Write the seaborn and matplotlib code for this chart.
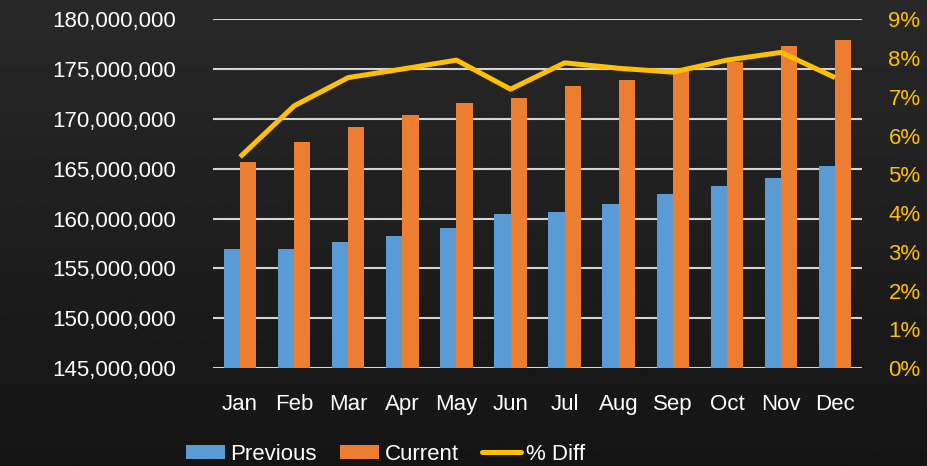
import numpy as np
import pandas as pd
import matplotlib
matplotlib.use("Agg")
import matplotlib.pyplot as plt
from matplotlib.ticker import FuncFormatter, MultipleLocator
from matplotlib.patches import Patch
from matplotlib.lines import Line2D
import seaborn as sns

# Monthly totals and year-over-year change
months = ["Jan", "Feb", "Mar", "Apr", "May", "Jun",
          "Jul", "Aug", "Sep", "Oct", "Nov", "Dec"]
previous = [157.0e6, 157.0e6, 157.65e6, 158.25e6, 159.05e6, 160.45e6,
            160.65e6, 161.45e6, 162.45e6, 163.25e6, 164.1e6, 165.3e6]
current = [165.7e6, 167.65e6, 169.25e6, 170.45e6, 171.65e6, 172.1e6,
           173.3e6, 173.9e6, 174.8e6, 175.75e6, 177.3e6, 177.9e6]
pct_diff = [5.45, 6.77, 7.50, 7.72, 7.95, 7.20,
            7.88, 7.74, 7.64, 7.95, 8.15, 7.50]

BLUE = "#5B9BD5"
ORANGE = "#ED7D31"
GOLD = "#FFC000"
GRID = "#d4d4d4"

sns.set_theme(style="dark")
plt.rcParams["font.family"] = ["Liberation Sans", "DejaVu Sans"]

bars = pd.DataFrame({
    "month": months * 2,
    "value": previous + current,
    "series": ["Previous"] * 12 + ["Current"] * 12,
})
line = pd.DataFrame({"pos": np.arange(len(months)), "pct": pct_diff})

fig = plt.figure(figsize=(9.27, 4.66), dpi=100)

# dark chalkboard-style backdrop, slightly lighter near the top
bg = fig.add_axes([0, 0, 1, 1], zorder=-10)
grad = np.linspace(0.16, 0.08, 256).reshape(-1, 1)
bg.imshow(grad, cmap="gray", vmin=0, vmax=1, aspect="auto",
          extent=[0, 1, 0, 1])
bg.set_axis_off()

ax = fig.add_axes([0.2298, 0.2103, 0.7002, 0.7479])
ax.set_facecolor("none")

sns.barplot(data=bars, x="month", y="value", hue="series",
            palette={"Previous": BLUE, "Current": ORANGE},
            width=0.6, gap=0, saturation=1, ax=ax, legend=False,
            zorder=3, edgecolor="none", errorbar=None)

ax.set_ylim(145e6, 180e6)
ax.set_xlim(-0.5, 11.5)
ax.yaxis.set_major_locator(MultipleLocator(5e6))
ax.yaxis.set_major_formatter(FuncFormatter(lambda v, p: f"{v:,.0f}"))
ax.grid(axis="y", color=GRID, linewidth=1.5, zorder=0)
ax.grid(axis="x", visible=False)
for s in ax.spines.values():
    s.set_visible(False)
ax.set_xlabel("")
ax.set_ylabel("")
ax.tick_params(axis="y", colors="white", labelsize=16, pad=27, length=0)
ax.tick_params(axis="x", colors="white", labelsize=16, pad=19, length=0)

ax2 = ax.twinx()
ax2.set_facecolor("none")
sns.lineplot(data=line, x="pos", y="pct", color=GOLD, linewidth=3.6,
             ax=ax2, legend=False, solid_capstyle="butt")
ax2.set_ylim(0, 9)
ax2.set_xlim(-0.5, 11.5)
ax2.yaxis.set_major_locator(MultipleLocator(1))
ax2.yaxis.set_major_formatter(FuncFormatter(lambda v, p: f"{v:.0f}%"))
ax2.grid(False)
for s in ax2.spines.values():
    s.set_visible(False)
ax2.set_xlabel("")
ax2.set_ylabel("")
ax2.tick_params(axis="y", colors=GOLD, labelsize=16, pad=19, length=0)

handles = [Patch(facecolor=BLUE, edgecolor="none", label="Previous"),
           Patch(facecolor=ORANGE, edgecolor="none", label="Current"),
           Line2D([], [], color=GOLD, linewidth=3.6, label="% Diff")]
fig.legend(handles=handles, loc="center", bbox_to_anchor=(0.416, 0.025),
           ncol=3, frameon=False, fontsize=16, labelcolor="white",
           handlelength=1.75, handleheight=0.6, handletextpad=0.25,
           columnspacing=1.05)

fig.savefig("out.png", dpi=100)
